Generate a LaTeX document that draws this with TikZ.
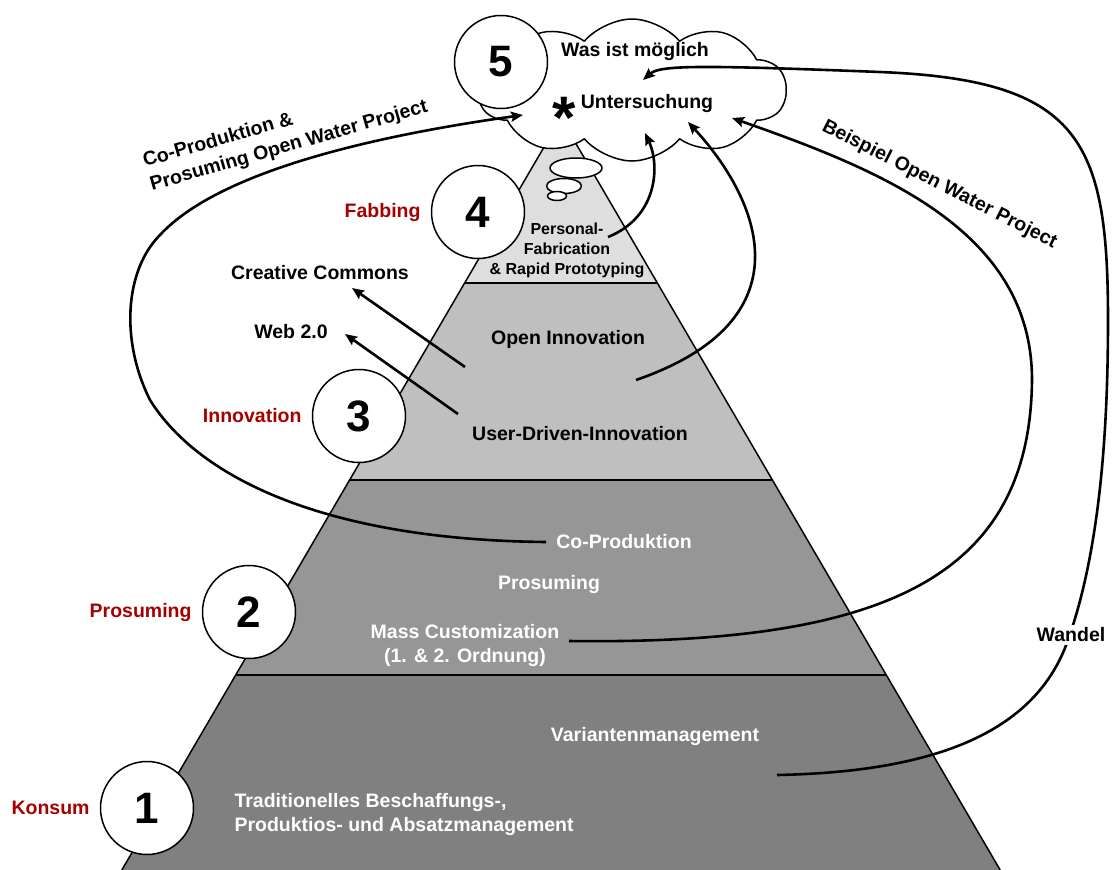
\documentclass[tikz,border=0pt]{standalone}
\usepackage{fontspec}
\setmainfont{Liberation Sans}
\usetikzlibrary{positioning,shapes.symbols,arrows.meta}
\definecolor{stufenrot}{RGB}{165,0,0}
\tikzset{
	kreis/.style={circle,draw,line width=1.5pt,fill=white,minimum size=93pt,inner sep=0pt,font=\fontsize{44}{44}\selectfont\bfseries},
	stufe/.style={text=stufenrot,inner sep=1pt},
	weiss/.style={text=white},
	klein/.style={font=\fontsize{16}{20}\selectfont\bfseries},
	pfeil/.style={line width=2.6pt,-{Stealth[length=12pt,width=10pt,inset=2pt]}},
	bogen/.style={line width=2.6pt},
}
\begin{document}
\begin{tikzpicture}[x=1pt,y=-1pt,line join=round,font=\fontsize{19.5}{24}\selectfont\bfseries]
	\useasboundingbox (0,0) rectangle (1112,870);
	\def\steig{0.584}
	% Pyramide
	\foreach \ya/\yb/\g in {118/283/87,283/480/75,480/675/59,675/870/50}
	\fill[white!\g!black] ({561-\steig*(\ya-118)},\ya) -- ({561+\steig*(\ya-118)},\ya) -- ({561+\steig*(\yb-118)},\yb) -- ({561-\steig*(\yb-118)},\yb) -- cycle;
	\draw[line width=1.5pt] ({561-\steig*752},870) -- (561,118) -- ({561+\steig*752},870);
	\foreach \y in {283,480,675}
	\draw[line width=1.5pt] ({561-\steig*(\y-118)},\y) -- ({561+\steig*(\y-118)},\y);
	% Denkblasen und Wolke
	\foreach \x/\y/\rx/\ry in {576/168/26/10,564/186/17.5/7.5,557/196/9.5/4.5}
	\draw[line width=1.5pt,fill=white] (\x,\y) ellipse [x radius=\rx pt,y radius=\ry pt];
	\node[cloud,cloud puffs=10,cloud puff arc=100,aspect=2.2,draw,line width=1.5pt,fill=white,minimum width=308pt,minimum height=142pt] (wolke) at (632,90) {};
	% Stufen
	\foreach \n/\x/\y/\lab in {1/147/808/Konsum,2/249/612/Prosuming,3/359/416/Innovation,4/478/212/Fabbing}{
		\node[kreis] (k\n) at (\x,\y) {\n};
		\node[stufe,left=9pt of k\n] (s\n) {\lab};
	}
	\node[kreis] (k5) at (501,62) {5};
	% Texte
	\node (was) at (635,52) {Was ist möglich};
	\node (unt) at (647,104) {Untersuchung};
	\node[anchor=base,inner sep=0pt,font=\fontsize{60}{60}\selectfont\bfseries] (stern) at (564,138) {*};
	\node[klein,align=center] (pf) at (567,250) {Personal-\\Fabrication\\\& Rapid Prototyping};
	\node (oi) at (568,339) {Open Innovation};
	\node (udi) at (580,434) {User-Driven-Innovation};
	\node[weiss] (cop) at (624,542) {Co-Produktion};
	\node[weiss] (pros) at (549,584) {Prosuming};
	\node[weiss,align=center] (mc) at (465,645) {Mass Customization\\(1. \& 2. Ordnung)};
	\node[weiss] (var) at (655,736) {Variantenmanagement};
	\node[weiss,align=left,anchor=west] (trad) at (231,814) {Traditionelles Beschaffungs-,\\Produktios- und Absatzmanagement};
	\node (cc) at (320,273) {Creative Commons};
	\node (web) at (291,332) {Web 2.0};
	\node[anchor=base west,rotate=16,inner sep=0pt] (copow1) at (145,167) {Co-Produktion \&};
	\node[anchor=base west,rotate=16,inner sep=0pt] (copow2) at (152,191) {Prosuming Open Water Project};
	\node[anchor=base west,rotate=-27,inner sep=0pt] (bsp) at (821,130) {Beispiel Open Water Project};
	% Verbindungen
	\path
	(465,367) coordinate (oi-a) (352,288) coordinate (cc-e)
	(458,414) coordinate (udi-a) (345,334) coordinate (web-e)
	(608,237) coordinate (pf-a) (645,133) coordinate (pf-e)
	(636,380) coordinate (oi-b) (688,122) coordinate (oi-e)
	(569,641) coordinate (mc-a) (732,118) coordinate (mc-e)
	(546,542) coordinate (cop-a) (523,115) coordinate (cop-e)
	(777,775) coordinate (var-a) (643,80) coordinate (var-e)
	;
	\draw[pfeil] (oi-a) -- (cc-e);
	\draw[pfeil] (udi-a) -- (web-e);
	\draw[pfeil] (pf-a) .. controls (658,217) and (660,165) .. (pf-e);
	\draw[pfeil] (oi-b) .. controls (810,320) and (760,200) .. (oi-e);
	\draw[pfeil] (mc-a) .. controls (880,645) and (1030,580) .. (1032,380) .. controls (1032,230) and (880,170) .. (mc-e);
	\draw[pfeil] (cop-a) .. controls (330,540) and (200,480) .. (150,400) .. controls (120,340) and (125,270) .. (160,235) .. controls (220,170) and (380,135) .. (cop-e);
	\draw[pfeil] (var-a) .. controls (930,772) and (1035,735) .. (1068,640) .. controls (1100,550) and (1108,430) .. (1108,320) .. controls (1108,140) and (1080,80) .. (880,72) .. controls (700,65) and (660,65) .. (var-e);
	\node[fill=white,inner sep=3pt] (wandel) at (1071,635) {Wandel};
\end{tikzpicture}
\end{document}
